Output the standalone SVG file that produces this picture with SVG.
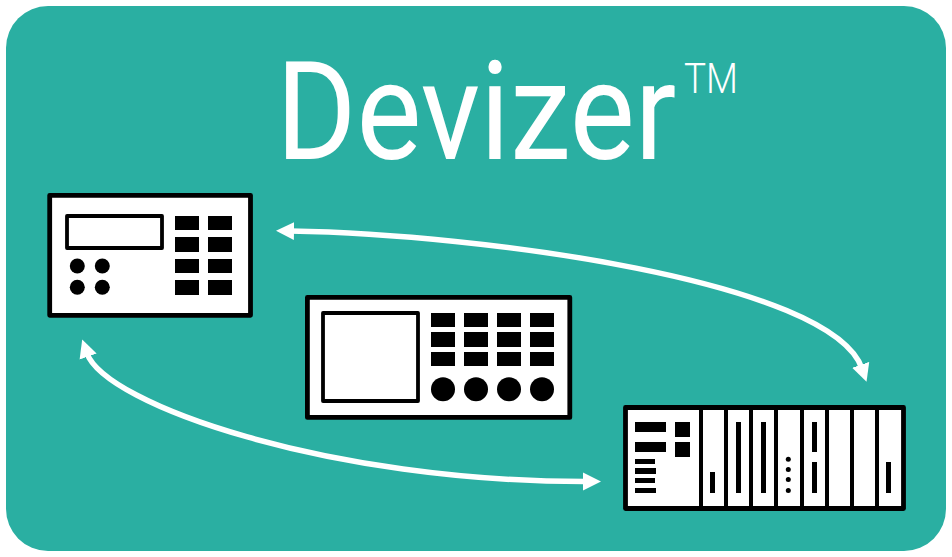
<svg xmlns="http://www.w3.org/2000/svg" width="952" height="557" viewBox="0 0 952 557">
<style>
.d{fill:#fff;stroke:#000;stroke-width:4.8;stroke-linejoin:round}
.s{fill:#fff;stroke:#000;stroke-width:3.8;stroke-linejoin:round}
.k{fill:#000}
.w{fill:none;stroke:#fff;stroke-width:5.5}
.t{fill:#fff;font-family:Roboto,"Noto Sans",sans-serif}
</style>
<defs>
<marker id="a" markerUnits="userSpaceOnUse" markerWidth="20" markerHeight="20" refX="4" refY="9.5" orient="auto-start-reverse"><path d="M0 .5L18 9.5L0 18.5Z" fill="#fff"/></marker>
</defs>
<rect id="bg" x="6" y="6" width="940" height="545" rx="42" fill="#2aafa2"/>
<g id="title"><text class="t" transform="translate(276 159) scale(.895 1)" font-size="137" font-weight="400">Devizer</text><text class="t" x="684" y="92.5" font-size="43" font-weight="300" textLength="54" lengthAdjust="spacingAndGlyphs">TM</text></g>
<g id="connectors">
<path class="w" marker-start="url(#a)" marker-end="url(#a)" d="M290 231C480 234 832 281 862 368.6"/>
<path class="w" marker-start="url(#a)" marker-end="url(#a)" d="M86.8 352.8C105 405 330 482 587 481.5"/>
</g>
<g id="device-1">
<rect class="d" x="49.7" y="195.3" width="200.8" height="120"/>
<rect class="s" x="67" y="216" width="95" height="32"/>
<path class="k" d="M175 216h24v14h-24zM208 216h24v14h-24zM175 237h24v15h-24zM208 237h24v15h-24zM175 259h24v14h-24zM208 259h24v14h-24zM175 280h24v15h-24zM208 280h24v15h-24z"/>
<circle class="k" cx="77.3" cy="266" r="7.5"/><circle class="k" cx="102.3" cy="266" r="7.5"/><circle class="k" cx="77.3" cy="287.3" r="7.5"/><circle class="k" cx="102.3" cy="287.3" r="7.5"/>
</g>
<g id="device-2">
<rect class="d" x="307.4" y="297.4" width="262.4" height="120"/>
<rect class="s" x="323" y="313" width="95" height="88"/>
<path class="k" d="M431 313h24v14h-24zM464 313h24v14h-24zM497 313h24v14h-24zM530 313h24v14h-24zM431 332h24v15h-24zM464 332h24v15h-24zM497 332h24v15h-24zM530 332h24v15h-24zM431 352h24v14h-24zM464 352h24v14h-24zM497 352h24v14h-24zM530 352h24v14h-24z"/>
<circle class="k" cx="443" cy="389.3" r="12"/><circle class="k" cx="476" cy="389.3" r="12"/><circle class="k" cx="509" cy="389.3" r="12"/><circle class="k" cx="542" cy="389.3" r="12"/>
</g>
<g id="device-3">
<rect class="d" x="625.5" y="407.5" width="278" height="101"/>
<path class="k" d="M699 408h4v100h-4zM724 408h4v100h-4zM749 408h4v100h-4zM774 408h4v100h-4zM800 408h4v100h-4zM825 408h4v100h-4zM850 408h4v100h-4zM875 408h4v100h-4z"/>
<path class="k" d="M635 422h31v10h-31zM635 442h31v10h-31zM675 422h15v15h-15zM675 442h15v15h-15zM635 459h20v5h-20zM635 468h21v6h-21zM635 478h20v5h-20zM635 488h21v5h-21z"/>
<path class="k" d="M710 472h5v21h-5zM736 422h5v71h-5zM761 422h5v71h-5zM812 422h5v30h-5zM812 462h5v31h-5zM886 462h5v31h-5z"/>
<circle class="k" cx="788.3" cy="459.3" r="2.5"/><circle class="k" cx="788.3" cy="469.5" r="2.5"/><circle class="k" cx="788.3" cy="479.5" r="2.5"/><circle class="k" cx="788.3" cy="490.5" r="2.5"/>
</g>
</svg>
